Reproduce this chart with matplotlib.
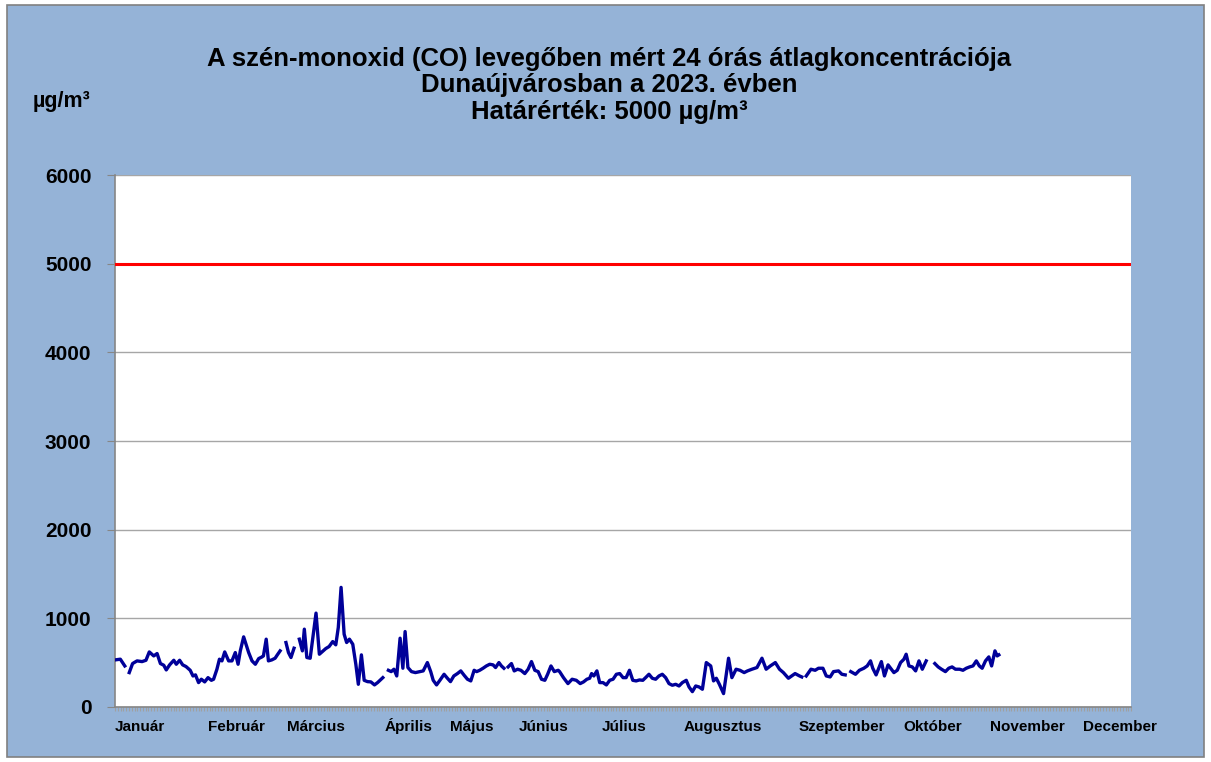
import numpy as np
import matplotlib
matplotlib.use("Agg")
import matplotlib.pyplot as plt
from matplotlib.patches import Rectangle
from matplotlib.transforms import blended_transform_factory

plt.rcParams['font.family'] = ['Liberation Sans', 'DejaVu Sans']

# nap (év napja, 0 = jan. 1.) és a CO 24 órás átlag (µg/m3); nan = hiányzó adat
nap = [0, 1.9, 3.5, 4.3,
       5.1, 6.3, 7.9, 9.7, 11.1, 12.3, 13.9, 15.1, 16.3, 17.5, 18.4, 19.6, 21.1, 22, 23.2, 24.3,
       25.5, 27, 28, 28.9, 30, 31, 32.2, 33.4, 34.6, 35.4, 36.6, 37.5, 38.4, 39.4, 40.8, 42,
       43.2, 44.2, 45, 46.2, 48, 49.2, 50.4, 51.6, 52.8, 53.3, 54.3, 55.1, 56.3, 57.5, 58.3, 59.3, 60.3,
       61.4, 62.3, 63.2, 64.3, 65.2,
       66.2, 67.3, 68, 68.9, 70.1, 71.3, 72.2, 73.4, 74.5, 75.7, 76.9, 78.2, 79.3, 80.2, 81.2,
       82.3, 83.2, 84.2, 85.4, 86.5, 87.4, 88.5, 89.5, 90.7, 91.9, 93.2, 94.3, 95.2, 96.2, 97.2,
       98.2, 99.2, 100.2, 101.2, 102.4, 103.4, 104.2, 105.2, 106.5, 107.9, 109.5, 110.7, 112.2,
       113.4, 114.3, 115.5, 116.7, 118.2, 119.4, 120.5, 121.7, 123, 124.2, 125.4, 126.6, 127.8,
       129, 129.9, 131, 132.2, 133.4, 134.6, 135.8, 136.7, 137.9, 138.8, 139.7, 140.5,
       141.2, 142.4, 143.4, 144.6, 145.8, 147.2, 148.4, 149.6, 150.8, 152, 153.2, 154.4, 155.4,
       156.6, 157.8, 159.2, 159.7, 161.1, 162.7, 164.2, 165.7, 167.1, 168.3, 169.5, 170.5, 171.2,
       172, 173.1, 174.1, 175.3, 176.5, 177.7, 178.9, 180.1, 181.3, 182.5, 183.6, 184.8, 186,
       187.2, 188.4, 189.6, 190.6, 191.8, 193, 194.2, 195.4, 196.6, 197.8, 199, 200.2, 201.4,
       202.6, 203.8, 205.2, 206.2, 207.4, 208.6, 209.8, 211, 212.4, 214, 215, 216, 217.1,
       218.6, 219.5, 220.4, 221.6, 223.1, 224.5, 226, 227.2, 228.8, 230.6, 232.4, 233.9, 235.4,
       237.2, 238.7, 240.1, 241.9, 243.1, 244.3, 245.9, 246.7, 247.5,
       248.3, 250, 251.5, 252.7, 254.3, 255.5, 256.9, 258.1, 259.9, 261.1, 262.3, 263.3,
       264.3, 266, 267.4, 269, 270.2, 271.4, 272.2, 273.4, 275.3, 276.4, 277.7, 278.6, 279.8,
       281, 282.2, 283.4, 284.2, 285.2, 286.4, 287.6, 288.8, 290, 291.4, 293,
       294.5, 295.7, 296.9, 298.3, 299.5, 300.7, 301.9, 303.4, 304.6, 305.8, 307, 308.2, 309.4,
       310.5, 311.5, 312.7, 313.9, 314.9, 316.1, 316.9, 317.5]
co = [531, 539, 463, np.nan,
      388, 490, 520, 512, 527, 621, 576, 603, 490, 471, 418, 475, 527, 482, 527, 475,
      456, 414, 350, 362, 275, 313, 283, 331, 301, 313, 426, 539, 520, 621, 520, 520,
      614, 482, 633, 791, 614, 520, 482, 546, 565, 576, 765, 520, 531, 550, 588, 633, np.nan,
      727, 614, 558, 663, np.nan,
      765, 633, 878, 558, 550, 840, 1059, 595, 625, 659, 682, 738, 701, 897, 1349,
      821, 727, 765, 708, 482, 256, 588, 301, 286, 283, 249, 275, 301, 331, np.nan,
      414, 399, 426, 350, 776, 437, 851, 445, 399, 388, 399, 407, 501,
      399, 301, 249, 301, 369, 324, 286, 350, 377, 407, 358, 313, 294,
      414, 399, 414, 437, 463, 482, 475, 445, 501, 463, 437, np.nan,
      452, 490, 407, 426, 414, 377, 426, 512, 414, 399, 313, 301, 369,
      463, 399, 414, 399, 331, 264, 313, 301, 264, 283, 313, 324, 377,
      350, 407, 275, 275, 249, 301, 313, 369, 377, 331, 331, 414, 301,
      294, 305, 301, 331, 369, 324, 313, 350, 369, 331, 264, 245, 256,
      237, 275, 301, 226, 173, 237, 226, 200, 501, 463, 294, 324, 256,
      151, 350, 550, 331, 426, 414, 388, 407, 426, 445, 550, 426, 463,
      501, 426, 388, 324, 350, 377, 350, 339, np.nan,
      350, 426, 414, 437, 437, 350, 339, 399, 407, 369, 362, np.nan,
      399, 369, 414, 437, 463, 520, 437, 362, 512, 350, 475, 437, 388,
      414, 501, 539, 595, 463, 452, 407, 520, 426, 520, np.nan,
      490, 452, 426, 399, 437, 452, 426, 426, 414, 437, 452, 463, 520,
      463, 437, 520, 565, 463, 633, 576, 588]

hatarertek = 5000
honapok = ['Január', 'Február', 'Március', 'Április', 'Május', 'Június',
           'Július', 'Augusztus', 'Szeptember', 'Október', 'November', 'December']
# a hónapnevek helye a tengelyen (nap), ahogy az eredeti ábrán állnak
honap_hely = [9, 43.5, 72.2, 105.3, 128.3, 153.8, 182.9, 218.4, 261.2, 293.9, 327.7, 361.1]

fig = plt.figure(figsize=(12.11, 7.62), dpi=100, facecolor='white')
fig.patches.append(Rectangle((0.006, 0.006), 0.988, 0.988, transform=fig.transFigure,
                             facecolor='#95B3D7', edgecolor='#808080', linewidth=1.2, zorder=-1))

ax = fig.add_axes([0.095, 0.0722, 0.839, 0.698])
ax.set_facecolor('white')
ax.plot(nap, co, color='#000099', linewidth=2.4, zorder=3)
ax.plot([0, 365], [hatarertek, hatarertek], color='#FF0000', linewidth=2.2, zorder=3)

ax.set_xlim(0, 365)
ax.set_ylim(0, 6000)
ax.set_yticks(range(0, 6001, 1000))
ax.yaxis.grid(True, color='#A6A6A6', linewidth=1)
ax.set_axisbelow(True)
for s in ['top', 'right']:
    ax.spines[s].set_visible(False)
for s in ['left', 'bottom']:
    ax.spines[s].set_color('#868686')
    ax.spines[s].set_linewidth(1.2)
ax.tick_params(axis='y', length=6, color='#868686', pad=11, labelsize=15)
for lab in ax.get_yticklabels():
    lab.set_fontweight('bold')

# napi osztások az x tengelyen, hónapnevek külön szövegként
ax.set_xticks(np.arange(0, 366, 1))
ax.set_xticklabels([])
ax.tick_params(axis='x', length=3, color='#A0A0A0', width=0.8)
trans = blended_transform_factory(ax.transData, fig.transFigure)
for nev, hely in zip(honapok, honap_hely):
    ax.text(hely, 1 - 731 / 762, nev, transform=trans, fontsize=11, fontweight='bold',
            ha='center', va='baseline', clip_on=False)

fig.text(0.051, 0.867, 'µg/m³', fontsize=15.5, fontweight='bold', ha='center', va='center')
fig.text(0.503, 0.888, 'A szén-monoxid (CO) levegőben mért 24 órás átlagkoncentrációja\n'
         'Dunaújvárosban a 2023. évben\nHatárérték: 5000 µg/m³',
         fontsize=18.5, fontweight='bold', ha='center', va='center', linespacing=1.12)

fig.savefig('out.png', dpi=100, facecolor=fig.get_facecolor())
